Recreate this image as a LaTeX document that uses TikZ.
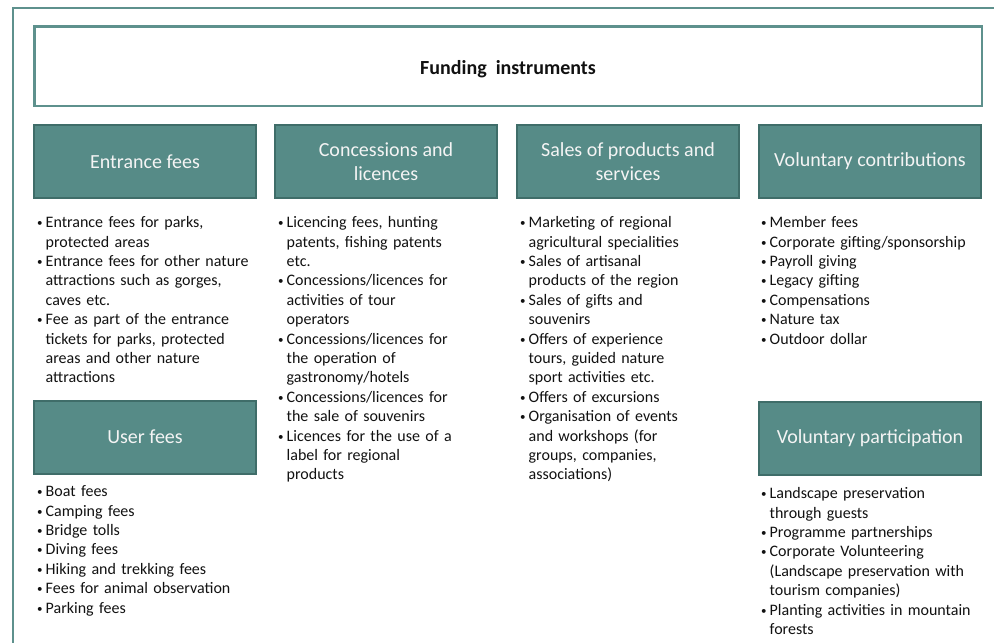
\documentclass[tikz,border=0pt]{standalone}
\usepackage{fontspec}
\setmainfont{Carlito}
\definecolor{framecol}{HTML}{5E918D}
\definecolor{tealfill}{HTML}{568B87}
\definecolor{tealdark}{HTML}{3F6D69}
\definecolor{headtxt}{HTML}{F4F4F4}
\definecolor{bodytxt}{HTML}{111111}
\newcommand{\bitem}[1]{\par\noindent\hangindent=8.5pt\hangafter=1\makebox[8.5pt][l]{\raisebox{1pt}{\fontsize{11}{11}\selectfont •}}\strut#1\par}
\tikzset{
  hdr/.style={fill=tealfill, draw=tealdark, line width=2pt, text=headtxt,
    font=\fontsize{20}{24}\selectfont, align=center, minimum width=222pt,
    minimum height=73pt, inner sep=0pt},
  titlebox/.style={draw=framecol, line width=2.5pt, fill=white,
    minimum width=947.5pt, minimum height=79.5pt, inner sep=0pt,
    text height=16pt, text depth=0pt,
    font=\bfseries\fontsize{20}{24}\selectfont, text=bodytxt},
  blist/.style={anchor=north west, inner sep=0pt, text width=225pt,
    align=left, text=bodytxt, font=\fontsize{16}{19.4}\selectfont}
}
\begin{document}
\begin{tikzpicture}[x=1pt,y=-1pt]
\useasboundingbox (0,0) rectangle (994,643);
\begin{scope}
  \clip (0,0) rectangle (994,643);
  \draw[framecol, line width=2pt] (13,8) rectangle (1010,660);
\end{scope}
\node[titlebox] (title) at (508,66) {Funding\ \ instruments};
\node[hdr] (entr) at (145,161.5) {Entrance fees};
\node[hdr] (conc) at (386,161.5) {Concessions and\\licences};
\node[hdr] (sales) at (628,161.5) {Sales of products and\\services};
\node[hdr] (volc) at (870,161.5) {Voluntary contributions};
\node[hdr] (user) at (145,437) {User fees};
\node[hdr] (volp) at (870,438) {Voluntary participation};

\node[blist] (lentr) at (37,208) {%
\bitem{Entrance fees for parks,\newline protected areas}
\bitem{Entrance fees for other nature\newline attractions such as gorges,\newline caves etc.}
\bitem{Fee as part of the entrance\newline tickets for parks, protected\newline areas and other nature\newline attractions}};

\node[blist] (lconc) at (278,208) {%
\bitem{Licencing fees, hunting\newline patents, fishing patents\newline etc.}
\bitem{Concessions/licences for\newline activities of tour\newline operators}
\bitem{Concessions/licences for\newline the operation of\newline gastronomy/hotels}
\bitem{Concessions/licences for\newline the sale of souvenirs}
\bitem{Licences for the use of a\newline label for regional\newline products}};

\node[blist] (lsales) at (520,208) {%
\bitem{Marketing of regional\newline agricultural specialities}
\bitem{Sales of artisanal\newline products of the region}
\bitem{Sales of gifts and\newline souvenirs}
\bitem{Offers of experience\newline tours, guided nature\newline sport activities etc.}
\bitem{Offers of excursions}
\bitem{Organisation of events\newline and workshops (for\newline groups, companies,\newline associations)}};

\node[blist] (lvolc) at (761,208) {%
\bitem{Member fees}
\bitem{Corporate gifting/sponsorship}
\bitem{Payroll giving}
\bitem{Legacy gifting}
\bitem{Compensations}
\bitem{Nature tax}
\bitem{Outdoor dollar}};

\node[blist] (luser) at (37,477) {%
\bitem{Boat fees}
\bitem{Camping fees}
\bitem{Bridge tolls}
\bitem{Diving fees}
\bitem{Hiking and trekking fees}
\bitem{Fees for animal observation}
\bitem{Parking fees}};

\node[blist] (lvolp) at (761,479) {%
\bitem{Landscape preservation\newline through guests}
\bitem{Programme partnerships}
\bitem{Corporate Volunteering\newline (Landscape preservation with\newline tourism companies)}
\bitem{Planting activities in mountain\newline forests}};
\end{tikzpicture}
\end{document}
